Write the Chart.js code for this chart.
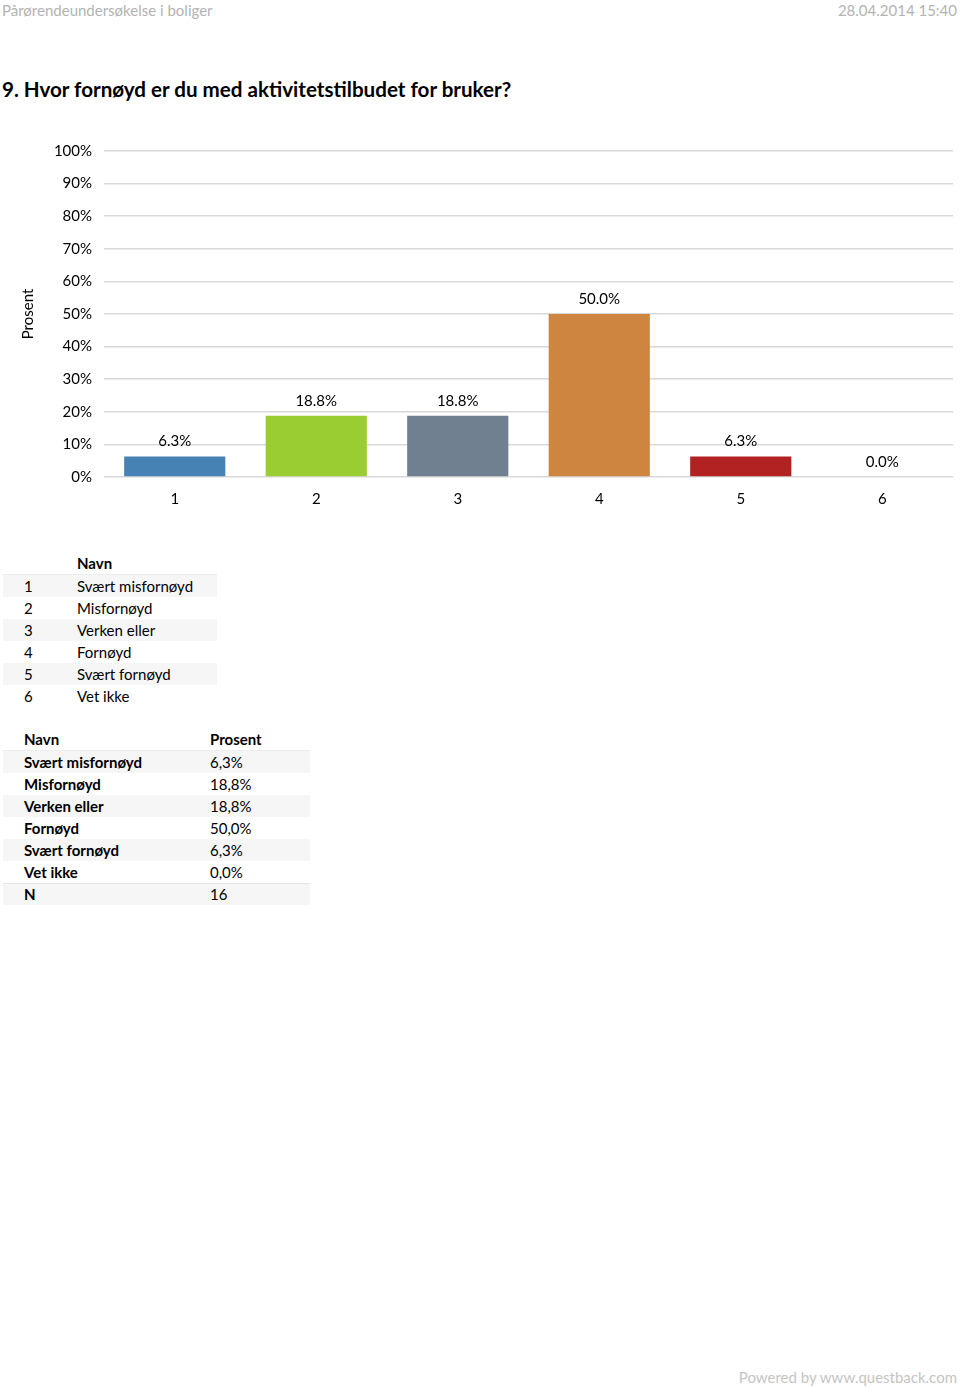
<!DOCTYPE html>
<html>
<head>
<meta charset="utf-8">
<script src="https://cdn.jsdelivr.net/npm/chart.js@4"></script>
<style>
    body { margin: 0; width: 960px; height: 1387px; position: relative; background: #fff; font-family: Lato, "Open Sans", sans-serif; color: #000; }
    .head { position: absolute; top: 0; font-size: 15px; color: #b3b3b3; line-height: 20px; }
    .title { position: absolute; left: 2px; top: 76px; font-size: 20.6px; font-weight: bold; line-height: 26px; }
    .chart-box { position: absolute; left: 0; top: 130px; width: 960px; height: 390px; }
    table { position: absolute; border-collapse: collapse; font-size: 15px; }
    td { height: 22px; padding: 0; line-height: 22px; }
    tr.alt td { background: #f6f6f6; }
    tr.hdr td { font-weight: bold; height: 21px; line-height: 21px; border-bottom: 1px solid #ececec; }
    tr.last td { height: 21px; line-height: 21px; border-top: 1px solid #e4e4e4; }
    .foot { position: absolute; right: 3px; top: 1368px; font-size: 15px; color: #c4c4c4; }
</style>
</head>
<body>
<div class="head" style="left:2px">Pårørendeundersøkelse i boliger</div>
<div class="head" style="right:3px">28.04.2014 15:40</div>
<div class="title">9. Hvor fornøyd er du med aktivitetstilbudet for bruker?</div>
<div class="chart-box"><canvas id="chart1"></canvas></div>
<table id="legendTable" style="left:3px; top:553px; width:214px"></table>
<table id="valueTable" style="left:3px; top:729px; width:307px"></table>
<div class="foot">Powered by www.questback.com</div>

<script>
const categories = ['1', '2', '3', '4', '5', '6'];
const names = ['Svært misfornøyd', 'Misfornøyd', 'Verken eller', 'Fornøyd', 'Svært fornøyd', 'Vet ikke'];
const percents = [6.3, 18.8, 18.8, 50.0, 6.3, 0.0];
const barColors = ['#4682b4', '#9acd32', '#708090', '#cd853f', '#b22222', '#6a5acd'];
const yTicks = [0, 10, 20, 30, 40, 50, 60, 70, 80, 90, 100];
const respondents = 16;

const labelFont = '15px Lato, "Open Sans", sans-serif';

const barLabels = {
    id: 'barLabels',
    afterDatasetsDraw(chart) {
        const c = chart.ctx;
        const meta = chart.getDatasetMeta(0);
        c.save();
        c.font = labelFont;
        c.fillStyle = '#000';
        c.textAlign = 'center';
        c.textBaseline = 'middle';
        meta.data.forEach((bar, i) => {
            c.fillText(percents[i].toFixed(1) + '%', bar.x, bar.y - 15);
        });
        c.restore();
    }
};

const ctx1 = document.getElementById('chart1').getContext('2d');
new Chart(ctx1, {
    type: 'bar',
    data: {
        labels: categories,
        datasets: [{
            data: percents,
            backgroundColor: barColors,
            categoryPercentage: 1,
            barPercentage: 0.715
        }]
    },
    options: {
        responsive: true,
        maintainAspectRatio: false,
        animation: false,
        layout: { padding: { top: 18, right: 7, left: 0, bottom: 0 } },
        plugins: { legend: { display: false }, tooltip: { enabled: false } },
        scales: {
            x: {
                grid: { display: false, drawTicks: false },
                border: { display: false },
                ticks: { color: '#000', font: { size: 15, family: 'Lato, "Open Sans", sans-serif' }, padding: 13 },
                afterFit: (s) => { s.height = 43; }
            },
            y: {
                min: 0,
                max: 100,
                afterBuildTicks: (s) => { s.ticks = yTicks.map(v => ({ value: v })); },
                grid: { color: '#d9d9d9', lineWidth: 1.5, drawTicks: false },
                border: { display: false },
                ticks: {
                    color: '#000',
                    padding: 12,
                    font: { size: 15, family: 'Lato, "Open Sans", sans-serif' },
                    callback: (v) => v + '%'
                },
                title: {
                    display: true,
                    text: 'Prosent',
                    color: '#000',
                    font: { size: 15, family: 'Lato, "Open Sans", sans-serif' },
                    padding: { top: 19, bottom: 0 }
                },
                afterFit: (s) => { s.width = 104; }
            }
        }
    },
    plugins: [barLabels]
});

// tables under the chart
const legendTable = document.getElementById('legendTable');
let html = '<tr class="hdr"><td style="width:74px"></td><td>Navn</td></tr>';
names.forEach((n, i) => {
    html += '<tr' + (i % 2 === 0 ? ' class="alt"' : '') + '><td style="padding-left:21px">' + categories[i] + '</td><td>' + n + '</td></tr>';
});
legendTable.innerHTML = html;

const valueTable = document.getElementById('valueTable');
html = '<tr class="hdr"><td style="padding-left:21px;width:186px">Navn</td><td>Prosent</td></tr>';
names.forEach((n, i) => {
    html += '<tr' + (i % 2 === 0 ? ' class="alt"' : '') + '><td style="padding-left:21px;font-weight:bold">' + n + '</td><td>' + percents[i].toFixed(1).replace('.', ',') + '%</td></tr>';
});
html += '<tr class="alt last"><td style="padding-left:21px;font-weight:bold">N</td><td>' + respondents + '</td></tr>';
valueTable.innerHTML = html;
</script>
</body>
</html>
